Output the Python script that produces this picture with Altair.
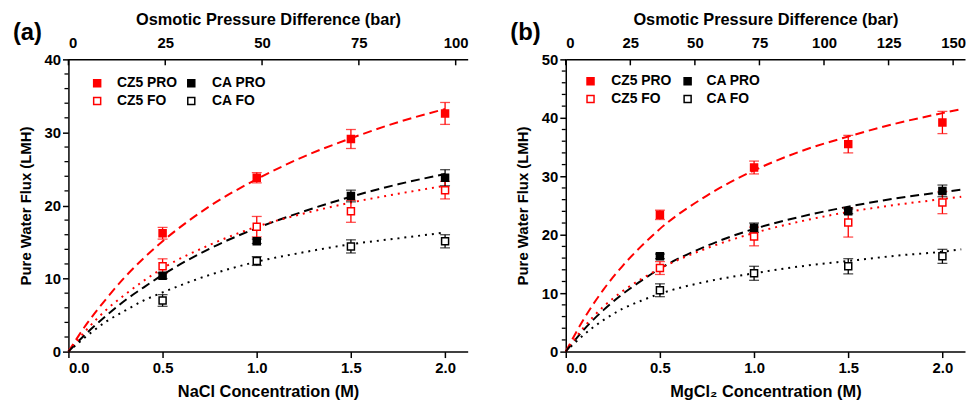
import altair as alt
import pandas as pd

FONT = "Liberation Sans"
series = ["CZ5 PRO", "CA PRO", "CZ5 FO", "CA FO"]
conc = [0.5, 1.0, 1.5, 2.0]

# ---------- Panel (a): NaCl ----------
a_cz5_pro = [16.2, 23.8, 29.1, 32.6]
a_cz5_pro_err = [0.8, 0.7, 1.3, 1.5]
a_ca_pro = [10.4, 15.1, 21.3, 23.8]
a_ca_pro_err = [0.4, 0.3, 0.8, 1.1]
a_cz5_fo = [11.7, 17.1, 19.2, 22.1]
a_cz5_fo_err = [1.0, 1.4, 1.5, 1.2]
a_ca_fo = [7.0, 12.4, 14.4, 15.1]
a_ca_fo_err = [0.8, 0.6, 0.9, 0.9]

fit_x_a = [0, 0.1, 0.2, 0.3, 0.4, 0.5, 0.75, 1.0, 1.25, 1.5, 1.75, 2.0]
a_fit_cz5_pro = [0, 3.9, 7.2, 10.2, 12.8, 15.1, 19.9, 23.6, 26.7, 29.2, 31.4, 33.2]
a_fit_ca_pro = [0, 2.6, 4.9, 7.0, 8.8, 10.5, 14.1, 16.9, 19.2, 21.2, 22.9, 24.3]
a_fit_cz5_fo = [0, 3.1, 5.7, 7.8, 9.7, 11.4, 14.6, 17.1, 18.9, 20.4, 21.6, 22.7]
a_fit_ca_fo = [0, 2.2, 4.1, 5.6, 7.0, 8.1, 10.5, 12.3, 13.6, 14.7, 15.5, 16.3]

# ---------- Panel (b): MgCl2 ----------
b_cz5_pro = [23.4, 31.5, 35.5, 39.2]
b_cz5_pro_err = [0.8, 1.1, 1.5, 1.9]
b_ca_pro = [16.3, 21.2, 24.0, 27.5]
b_ca_pro_err = [0.4, 0.8, 0.4, 1.0]
b_cz5_fo = [14.3, 19.7, 22.1, 25.5]
b_cz5_fo_err = [1.1, 1.6, 2.5, 1.9]
b_ca_fo = [10.5, 13.4, 14.6, 16.3]
b_ca_fo_err = [1.1, 1.2, 1.3, 1.2]

fit_x_b = [0, 0.1, 0.2, 0.3, 0.4, 0.5, 0.75, 1.0, 1.25, 1.5, 1.75, 2.0, 2.1]
b_fit_cz5_pro = [0, 5.8, 10.6, 14.6, 18.0, 21.0, 26.7, 31.0, 34.3, 36.8, 39.0, 40.8, 41.5]
b_fit_ca_pro = [0, 3.9, 7.1, 9.8, 12.1, 14.2, 18.1, 21.0, 23.1, 24.8, 26.2, 27.3, 27.7]
b_fit_cz5_fo = [0, 4.3, 7.7, 10.3, 12.4, 14.2, 17.7, 20.3, 22.3, 23.9, 25.1, 26.1, 26.5]
b_fit_ca_fo = [0, 3.0, 5.4, 7.3, 8.7, 9.9, 12.0, 13.4, 14.6, 15.5, 16.4, 17.1, 17.5]

x_ticks = [0.0, 0.5, 1.0, 1.5, 2.0]
a_y_ticks = [0, 10, 20, 30, 40]
b_y_ticks = [0, 10, 20, 30, 40, 50]
a_top_ticks = [0, 25, 50, 75, 100]
b_top_ticks = [0, 25, 50, 75, 100, 125, 150]

RED = "#ff0000"
BLK = "#000000"
WHT = "#ffffff"
stroke_colors = [RED, BLK, RED, BLK]
fill_colors = [RED, BLK, WHT, WHT]
line_scale = alt.Scale(domain=series, range=stroke_colors)
fill_scale = alt.Scale(domain=series, range=fill_colors)
dash_scale = alt.Scale(domain=series, range=[[9, 5], [9, 5], [2, 5], [2, 5]])

W, H = 403, 295


def points_df(vals, errs):
    rows = []
    for s, v, e in zip(series, vals, errs):
        for c, y, d in zip(conc, v, e):
            rows.append({"conc": c, "flux": y, "lo": y - d, "hi": y + d, "grp": s})
    return pd.DataFrame(rows)


def curves_df(xs, fits):
    rows = []
    for s, f in zip(series, fits):
        for c, y in zip(xs, f):
            rows.append({"conc": c, "flux": y, "grp": s})
    return pd.DataFrame(rows)


def legend_layers(sym_x, txt_x, row_y):
    # legend box: 2 columns x 2 rows (CZ5 PRO, CA PRO / CZ5 FO, CA FO)
    out = []
    for i, s in enumerate(series):
        col, row = i % 2, i // 2
        d = pd.DataFrame({"name": [s]})
        out.append(alt.Chart(d).mark_point(
            shape="square", size=50, strokeWidth=1.5, opacity=1,
            stroke=stroke_colors[i], fill=fill_colors[i], filled=False
        ).encode(x=alt.value(sym_x[col]), y=alt.value(row_y[row])))
        out.append(alt.Chart(d).mark_text(
            font=FONT, fontSize=14, fontWeight="bold", align="left",
            baseline="middle", color="black"
        ).encode(text="name:N", x=alt.value(txt_x[col]), y=alt.value(row_y[row])))
    return out


def panel(pts, crv, ymax, yticks, top_max, top_ticks, xtitle, label, leg, lab_xy):
    xs = alt.Scale(domain=[0, 2.12], nice=False, zero=True)
    ys = alt.Scale(domain=[0, ymax], nice=False, zero=True)
    x_axis = alt.Axis(values=x_ticks, format=".1f", title=xtitle, tickSize=6,
                      labelPadding=3, titlePadding=8)
    y_axis = alt.Axis(values=yticks, format="d", title="Pure Water Flux (LMH)",
                      tickSize=6, labelPadding=2, titlePadding=11)

    lines = alt.Chart(crv).mark_line(strokeWidth=2, interpolate="monotone").encode(
        x=alt.X("conc:Q", scale=xs, axis=x_axis),
        y=alt.Y("flux:Q", scale=ys, axis=y_axis),
        color=alt.Color("grp:N", scale=line_scale, legend=None),
        strokeDash=alt.StrokeDash("grp:N", scale=dash_scale, legend=None),
        detail="grp:N",
    )
    bars = alt.Chart(pts).mark_rule(strokeWidth=1.3).encode(
        x="conc:Q", y="lo:Q", y2="hi:Q",
        color=alt.Color("grp:N", scale=line_scale, legend=None),
    )
    cap_lo = alt.Chart(pts).mark_tick(orient="horizontal", size=10, thickness=1.3).encode(
        x="conc:Q", y="lo:Q",
        color=alt.Color("grp:N", scale=line_scale, legend=None),
    )
    cap_hi = alt.Chart(pts).mark_tick(orient="horizontal", size=10, thickness=1.3).encode(
        x="conc:Q", y="hi:Q",
        color=alt.Color("grp:N", scale=line_scale, legend=None),
    )
    marks = alt.Chart(pts).mark_point(shape="square", size=50, strokeWidth=1.5, opacity=1).encode(
        x="conc:Q", y="flux:Q",
        stroke=alt.Stroke("grp:N", scale=line_scale, legend=None),
        fill=alt.Fill("grp:N", scale=fill_scale, legend=None),
    )
    minor_vals = [v for v in range(0, ymax + 1, 2) if v % 10 != 0]
    minor = alt.Chart(pd.DataFrame({"m": minor_vals})).mark_rule(color="black", strokeWidth=1.3).encode(
        y="m:Q", x=alt.value(-4), x2=alt.value(0),
    )
    lab = alt.Chart(pd.DataFrame({"t": [label]})).mark_text(
        font=FONT, fontSize=24, fontWeight="bold", align="left", baseline="middle", color="black"
    ).encode(text="t:N", x=alt.value(lab_xy[0]), y=alt.value(lab_xy[1]))

    inner = alt.layer(lines, bars, cap_lo, cap_hi, marks, minor, lab, *legend_layers(*leg))

    top = alt.Chart(pd.DataFrame({"bar": top_ticks})).mark_rule(color="black", strokeWidth=1.5).encode(
        x=alt.X("bar:Q", scale=alt.Scale(domain=[0, top_max], nice=False),
                axis=alt.Axis(orient="top", values=top_ticks, format="d",
                              title="Osmotic Pressure Difference (bar)",
                              ticks=False, tickSize=0, labelPadding=9, titlePadding=8)),
        y=alt.value(0), y2=alt.value(6),
    )
    return alt.layer(inner, top).resolve_scale(x="independent").properties(width=W, height=H)


pa = panel(points_df([a_cz5_pro, a_ca_pro, a_cz5_fo, a_ca_fo],
                     [a_cz5_pro_err, a_ca_pro_err, a_cz5_fo_err, a_ca_fo_err]),
           curves_df(fit_x_a, [a_fit_cz5_pro, a_fit_ca_pro, a_fit_cz5_fo, a_fit_ca_fo]),
           40, a_y_ticks, 103.1, a_top_ticks, "NaCl Concentration (M)", "(a)",
           ([29, 124], [49, 145], [24, 42]), (-56, -27))
pb = panel(points_df([b_cz5_pro, b_ca_pro, b_cz5_fo, b_ca_fo],
                     [b_cz5_pro_err, b_ca_pro_err, b_cz5_fo_err, b_ca_fo_err]),
           curves_df(fit_x_b, [b_fit_cz5_pro, b_fit_ca_pro, b_fit_cz5_fo, b_fit_ca_fo]),
           50, b_y_ticks, 154.6, b_top_ticks, "MgCl\u2082 Concentration (M)", "(b)",
           ([25, 123], [46, 142], [22, 40]), (-56, -27))

chart = alt.hconcat(pa, pb, spacing=42).resolve_scale(
    stroke="independent", fill="independent", color="independent", strokeDash="independent"
).properties(
    padding={"left": 5, "top": 2, "right": 0, "bottom": 0}
).configure_view(stroke=None).configure_axis(
    grid=False, domainColor="black", domainWidth=1.5, tickColor="black", tickWidth=1.5,
    labelFont=FONT, labelFontSize=15, labelFontWeight="bold", labelColor="black",
    titleFont=FONT, titleFontSize=16.5, titleFontWeight="bold", titleColor="black",
).configure_axisY(titleFontSize=15)

chart.save("out.html", embed_options={"renderer": "svg", "actions": False})
